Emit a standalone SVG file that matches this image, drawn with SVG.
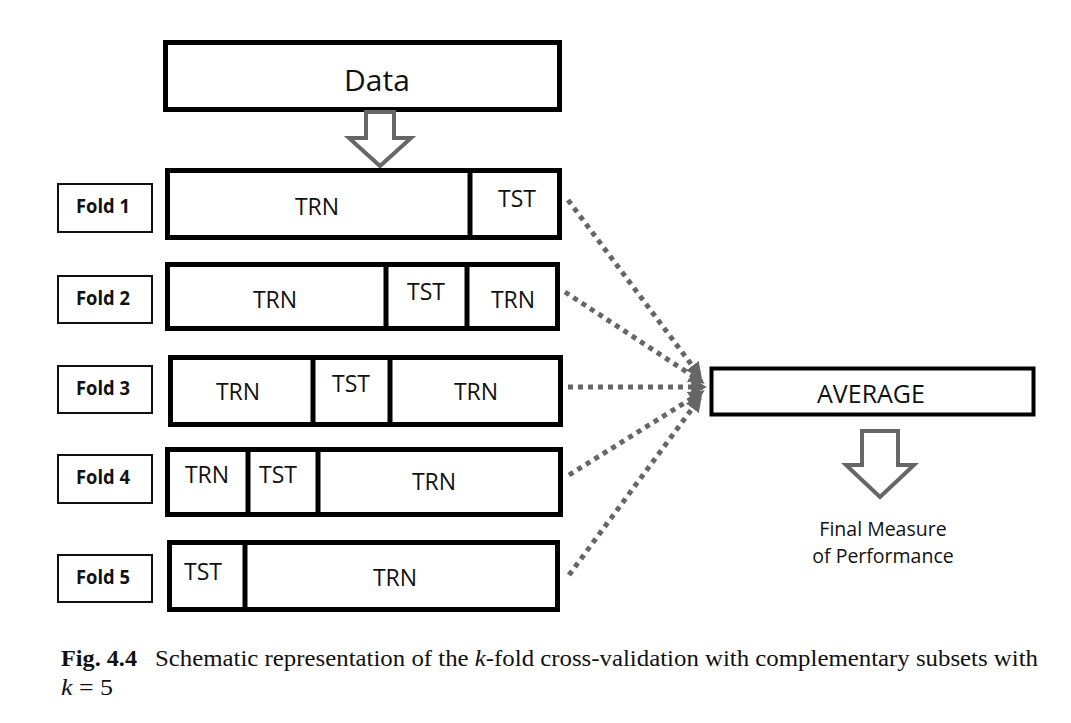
<svg xmlns="http://www.w3.org/2000/svg" width="1071" height="723" viewBox="0 0 1071 723">
<style>
.bar{fill:#fff;stroke:#000;stroke-width:5}
.div{stroke:#000;stroke-width:5}
.lbl{fill:#fff;stroke:#111;stroke-width:2}
.t{font-family:"Open Sans","Liberation Sans",sans-serif;font-size:23px;fill:#111;text-anchor:middle}
.f{font-family:"Open Sans","Liberation Sans",sans-serif;font-size:20px;font-weight:bold;fill:#111;text-anchor:middle}
.hollow{fill:#fff;stroke:#666;stroke-width:4;stroke-linejoin:miter}
.dot{fill:none;stroke:#666;stroke-width:5;stroke-dasharray:5 5}
.cap{font-family:"Liberation Serif","Times New Roman",serif;font-size:24px;fill:#111}
</style>
<defs>
<marker id="ah" viewBox="0 0 10 10" refX="8" refY="5" markerWidth="3.2" markerHeight="3.2" orient="auto" markerUnits="strokeWidth">
<path d="M0,0 L10,5 L0,10 z" fill="#666"/>
</marker>
</defs>
<rect width="1071" height="723" fill="#fff"/>

<g id="data">
<rect class="bar" x="165.5" y="42.5" width="394" height="67"/>
<text class="t" x="377" y="91" style="font-size:30px">Data</text>
</g>
<g id="arrow-data">
<path class="hollow" d="M366,112 L394,112 L394,138 L411,138 L380,166 L349,138 L366,138 Z"/>
</g>

<g id="fold1">
<rect class="lbl" x="58" y="184" width="94" height="48"/>
<text class="f" x="103" y="213" textLength="54" lengthAdjust="spacingAndGlyphs">Fold 1</text>
<rect class="bar" x="167.5" y="170.5" width="392" height="67"/>
<line class="div" x1="470" y1="170" x2="470" y2="238"/>
<text class="t" x="317" y="215">TRN</text>
<text class="t" x="517" y="207">TST</text>
</g>

<g id="fold2">
<rect class="lbl" x="58" y="276" width="94" height="47"/>
<text class="f" x="103" y="305" textLength="54" lengthAdjust="spacingAndGlyphs">Fold 2</text>
<rect class="bar" x="167.5" y="264.5" width="390" height="64"/>
<line class="div" x1="386" y1="264" x2="386" y2="329"/>
<line class="div" x1="467" y1="264" x2="467" y2="329"/>
<text class="t" x="275" y="308">TRN</text>
<text class="t" x="426" y="300">TST</text>
<text class="t" x="513" y="308">TRN</text>
</g>

<g id="fold3">
<rect class="lbl" x="58" y="366" width="94" height="47"/>
<text class="f" x="103" y="395" textLength="54" lengthAdjust="spacingAndGlyphs">Fold 3</text>
<rect class="bar" x="170.5" y="357.5" width="390" height="67"/>
<line class="div" x1="313" y1="357" x2="313" y2="425"/>
<line class="div" x1="390" y1="357" x2="390" y2="425"/>
<text class="t" x="238" y="400">TRN</text>
<text class="t" x="351" y="392">TST</text>
<text class="t" x="476" y="400">TRN</text>
</g>

<g id="fold4">
<rect class="lbl" x="58" y="455" width="94" height="48"/>
<text class="f" x="103" y="484" textLength="54" lengthAdjust="spacingAndGlyphs">Fold 4</text>
<rect class="bar" x="167.5" y="449.5" width="393" height="65"/>
<line class="div" x1="248" y1="449" x2="248" y2="515"/>
<line class="div" x1="318" y1="449" x2="318" y2="515"/>
<text class="t" x="207" y="483">TRN</text>
<text class="t" x="278" y="483">TST</text>
<text class="t" x="434" y="490">TRN</text>
</g>

<g id="fold5">
<rect class="lbl" x="58" y="555" width="94" height="47"/>
<text class="f" x="103" y="584" textLength="54" lengthAdjust="spacingAndGlyphs">Fold 5</text>
<rect class="bar" x="169.5" y="542.5" width="388" height="67"/>
<line class="div" x1="245" y1="542" x2="245" y2="610"/>
<text class="t" x="203" y="580">TST</text>
<text class="t" x="395" y="586">TRN</text>
</g>

<g id="average">
<rect class="bar" x="711.5" y="368.5" width="322" height="46" style="stroke-width:4"/>
<text class="t" x="871" y="403" style="font-size:25px">AVERAGE</text>
</g>
<g id="arrow-avg">
<path class="hollow" d="M862,431 L898,431 L898,465 L914,465 L880,497 L846,465 L862,465 Z"/>
</g>
<g id="final">
<text class="t" x="883" y="536" style="font-size:19.5px">Final Measure</text>
<text class="t" x="883" y="563" style="font-size:19.5px">of Performance</text>
</g>

<g id="connectors">
<line class="dot" x1="568" y1="200" x2="700" y2="376" marker-end="url(#ah)"/>
<line class="dot" x1="565" y1="292" x2="702" y2="382" marker-end="url(#ah)"/>
<line class="dot" x1="568" y1="387" x2="704" y2="387" marker-end="url(#ah)"/>
<line class="dot" x1="569" y1="475" x2="702" y2="392" marker-end="url(#ah)"/>
<line class="dot" x1="569" y1="575" x2="700" y2="398" marker-end="url(#ah)"/>
</g>

<g id="caption">
<text class="cap" x="61" y="666" font-weight="bold" textLength="76" lengthAdjust="spacingAndGlyphs">Fig. 4.4</text>
<text class="cap" x="155" y="666" textLength="883" lengthAdjust="spacingAndGlyphs">Schematic representation of the <tspan font-style="italic">k</tspan>-fold cross-validation with complementary subsets with</text>
<text class="cap" x="61" y="695" textLength="52" lengthAdjust="spacingAndGlyphs"><tspan font-style="italic">k</tspan> = 5</text>
</g>
</svg>
